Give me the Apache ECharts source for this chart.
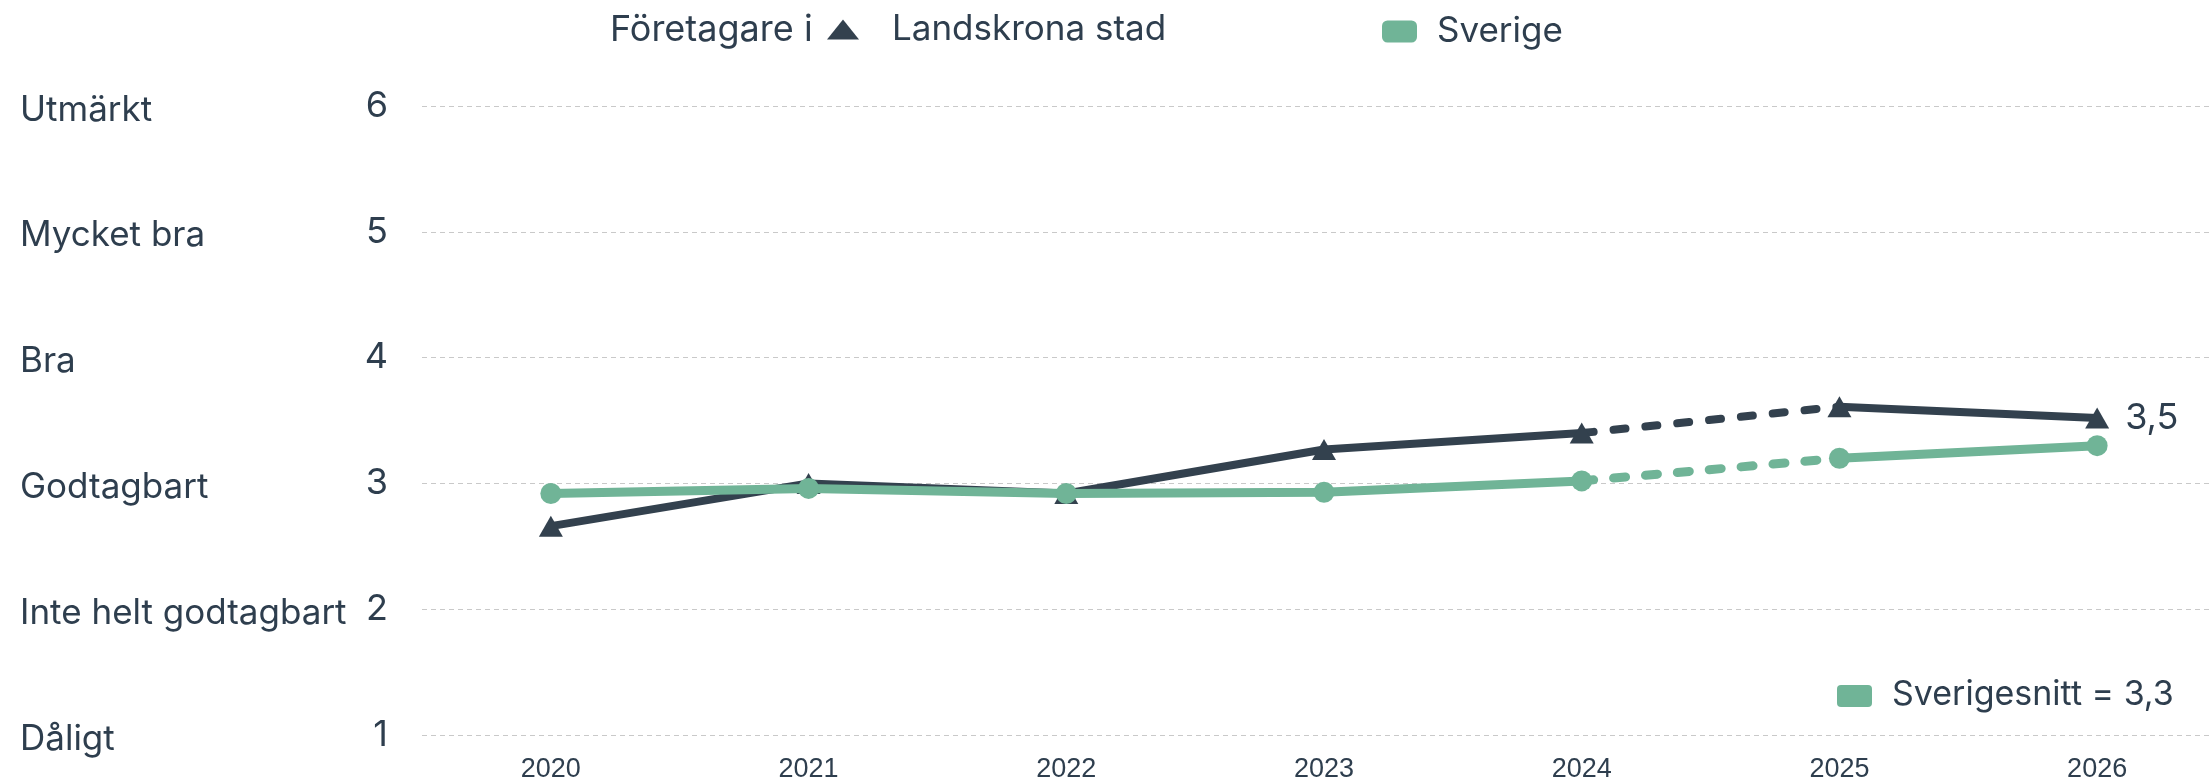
<!DOCTYPE html>
<html>
<head>
<meta charset="utf-8">
<script src="https://cdn.jsdelivr.net/npm/echarts@6/dist/echarts.min.js"></script>
<style>
	html, body { margin: 0; padding: 0; background: #fff; }
	#chart { width: 2211px; height: 778px; }
</style>
</head>
<body>
<div id="chart"></div>
<script>
// data
const years = ['2020', '2021', '2022', '2023', '2024', '2025', '2026']
const landskrona = [2.66, 3.0, 2.92, 3.27, 3.40, 3.61, 3.52]
const sverige = [2.92, 2.96, 2.92, 2.93, 3.02, 3.20, 3.30]
const scaleLabels = ['Dåligt', 'Inte helt godtagbart', 'Godtagbart', 'Bra', 'Mycket bra', 'Utmärkt']
const yTicks = [1, 2, 3, 4, 5, 6]
// prognosis segment (dashed) between these indices
const dashFrom = 4
const dashTo = 5

const dark = '#33414e'
const green = '#70b497'
const textColor = '#2e3e4e'
const font = 'Inter, "Open Sans", sans-serif'

// keep only values in [from, to], rest becomes a gap
const part = (arr, from, to) => arr.map((v, i) => (i >= from && i <= to ? v : '-'))
const fmt = (v) => v.toFixed(1).replace('.', ',')

const lineSeries = (name, data, color, width, symbol, size, dashed) => ({
	name: name,
	type: 'line',
	data: data,
	symbol: symbol,
	symbolSize: size,
	showSymbol: !dashed,
	silent: true,
	itemStyle: { color: color },
	lineStyle: {
		color: color,
		width: width,
		type: dashed ? [12, 20] : 'solid',
		cap: 'round'
	},
	z: color === green ? 3 : 2
})

const chart = echarts.init(document.getElementById('chart'))

const lastL = lineSeries('Landskrona stad', part(landskrona, dashTo, years.length - 1), dark, 8, 'triangle', [24, 21], false)
lastL.label = {
	show: true,
	position: 'right',
	distance: 16,
	fontFamily: font,
	fontSize: 36,
	color: textColor,
	formatter: (p) => (p.dataIndex === years.length - 1 ? fmt(p.value) : '')
}

const option = {
	animation: false,
	title: {
		text: 'Företagare i',
		left: 610,
		top: 12,
		padding: 0,
		textStyle: { fontFamily: font, fontSize: 36, fontWeight: 'normal', color: textColor }
	},
	legend: [
		{
			data: [{ name: 'Landskrona stad', icon: 'triangle' }],
			left: 827,
			top: 12,
			padding: 0,
			itemWidth: 32,
			itemHeight: 20,
			symbolKeepAspect: false,
			textStyle: { fontFamily: font, fontSize: 35, color: textColor, padding: [0, 0, 0, 28] }
		},
		{
			data: [{ name: 'Sverige', icon: 'roundRect' }],
			left: 1382,
			top: 14,
			padding: 0,
			itemWidth: 35,
			itemHeight: 22,
			textStyle: { fontFamily: font, fontSize: 35, color: textColor, padding: [0, 0, 0, 15] }
		}
	],
	grid: {
		left: 422,
		right: -15,
		top: 106,
		bottom: 43,
		outerBoundsMode: 'none'
	},
	xAxis: {
		type: 'category',
		data: years,
		boundaryGap: true,
		axisLine: { show: false },
		axisTick: { show: false },
		axisLabel: {
			fontFamily: '"Liberation Sans", Arial, sans-serif',
			fontSize: 27,
			color: textColor,
			margin: 21
		}
	},
	yAxis: {
		type: 'value',
		min: yTicks[0],
		max: yTicks[yTicks.length - 1],
		interval: 1,
		axisLine: { show: false },
		axisTick: { show: false },
		splitLine: {
			lineStyle: { color: '#c9c9c9', width: 1, type: [5, 4] }
		},
		axisLabel: {
			align: 'left',
			margin: 402,
			formatter: (v) => '{a|' + scaleLabels[yTicks.indexOf(v)] + '}{b|' + v + '}',
			rich: {
				a: { fontFamily: font, fontSize: 35, color: textColor, width: 338, align: 'left', padding: [8, 0, 0, 0] },
				b: { fontFamily: font, fontSize: 36, color: textColor, width: 30, align: 'right', padding: [0, 0, 0, 0] }
			}
		}
	},
	graphic: [
		{
			type: 'rect',
			left: 1837,
			top: 685,
			shape: { width: 35, height: 22, r: 4 },
			style: { fill: green }
		},
		{
			type: 'text',
			left: 1892,
			top: 678,
			style: {
				text: 'Sverigesnitt = ' + fmt(sverige[sverige.length - 1]),
				fontFamily: font,
				fontSize: 34,
				fill: textColor
			}
		}
	],
	series: [
		lineSeries('Landskrona stad', part(landskrona, 0, dashFrom), dark, 8, 'triangle', [24, 21], false),
		lineSeries('Landskrona stad', part(landskrona, dashFrom, dashTo), dark, 8, 'none', 0, true),
		lastL,
		lineSeries('Sverige', part(sverige, 0, dashFrom), green, 9, 'circle', 21, false),
		lineSeries('Sverige', part(sverige, dashFrom, dashTo), green, 9, 'none', 0, true),
		lineSeries('Sverige', part(sverige, dashTo, years.length - 1), green, 9, 'circle', 21, false)
	]
}

chart.setOption(option)
</script>
</body>
</html>
